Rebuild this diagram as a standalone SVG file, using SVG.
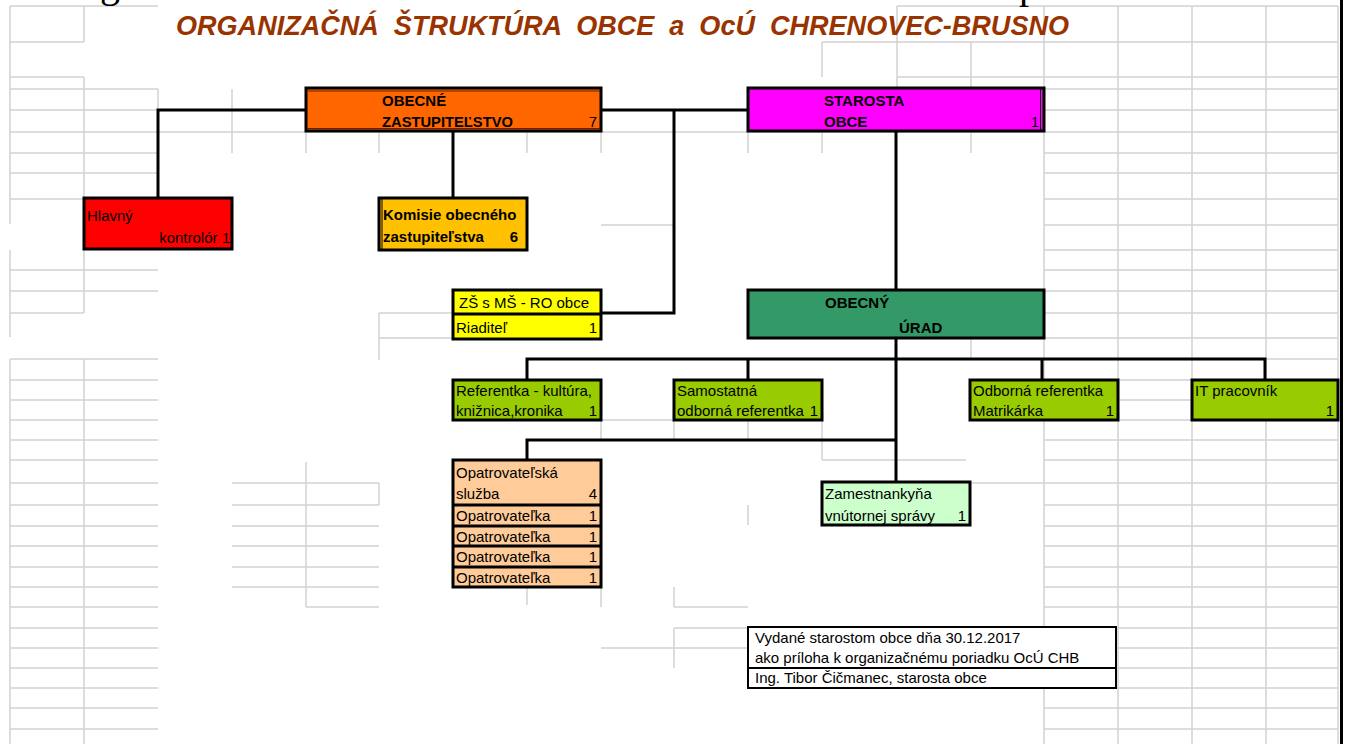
<svg xmlns="http://www.w3.org/2000/svg" width="1346" height="744" viewBox="0 0 1346 744">
<style>
.grid{fill:none;stroke:#d2d2d2;stroke-width:1.5}
.conn{fill:none;stroke:#000;stroke-width:3}
.box{stroke:#000;stroke-width:3}
.div{stroke:#000;stroke-width:3}
.thin{stroke:#000;stroke-width:1}
text{font-family:"Liberation Sans",Arial,sans-serif;font-size:15px;fill:#000}
.b{font-weight:bold}
.r{text-anchor:end}
.title{font-size:28px;font-weight:bold;font-style:italic;fill:#993300}
.cut{font-family:"Liberation Serif","Times New Roman",serif;font-size:40px}
</style>
<rect x="0" y="0" width="1346" height="744" fill="#fff"/>
<g id="grid" class="grid">
<path d="M10 6H158M10 42H84M10 77H84M10 89H158M10 110H158M10 132H1338M10 153H158M10 173H158M10 199H84M10 270H158M10 291H158M10 313H84M10 359H158M10 380H158M10 400H158M10 420H158M10 440H158M10 460H158M10 483H158M10 505H158M10 526H158M10 546H158M10 567H158M10 587H158M10 607H158M10 628H158M10 648H158M10 668H158M10 688H158M10 708H158M10 729H158"/>
<path d="M897 6H1338M822 42H1338M897 77H1338M1044 89H1338M1044 110H1338M1044 153H1338M1044 173H1338M1044 199H1338M1044 225H1338M1044 250H1338M1044 270H1338M1044 291H1338M1044 313H1338M1044 338H1338M1266 359H1338M1118 380H1192M1118 400H1192M1118 420H1192M1044 440H1338M1044 460H1338M966 483H1338M1044 505H1338M1044 526H1338M1044 546H1338M1044 567H1338M1044 587H1338M1044 607H1338M1118 628H1338M1118 648H1338M1118 668H1338M1044 688H1338M1044 708H1338M1044 729H1338"/>
<path d="M601 225H674M379 313H453M379 338H453M601 420H748M822 460H966M232 483H379M232 505H379M232 526H379M232 546H379M232 567H379M232 587H379M306 607H379M674 607H748M674 628H748M601 648H748"/>
<path d="M10 6V224M10 250V337M10 359V744M84 6V42M84 77V198M84 248V313M84 359V744M158 89V110M232 89V153M306 132V153M306 462V607M379 132V153M379 313V360M379 483V505M527 132V153M527 587V605M601 132V153M601 420V440M601 587V607M674 420V440M674 587V607M674 628V668M748 132V153M748 420V440M748 505V525M822 42V77M822 132V153M822 420V460M897 6V89M971 42V89M971 132V153M971 338V360M1044 6V744M1118 6V744M1192 6V744M1266 6V744M1338 6V744"/>
</g>
<line x1="1341.5" y1="0" x2="1341.5" y2="744" stroke="#000" stroke-width="3"/>
<text class="cut" x="100" y="-3">g</text>
<text class="cut" x="1019" y="-2">p</text>
<text class="title" x="176" y="35" textLength="893" lengthAdjust="spacingAndGlyphs" xml:space="preserve">ORGANIZAČNÁ  ŠTRUKTÚRA  OBCE  a  OcÚ  CHRENOVEC-BRUSNO</text>
<g id="connectors" class="conn">
<path d="M158 198V110H306"/>
<path d="M601 110H748"/>
<path d="M674 110V313H601"/>
<path d="M453 131V198"/>
<path d="M896 131V290"/>
<path d="M896 338V482"/>
<path d="M527 380V359H1265V380"/>
<path d="M748 359V380"/>
<path d="M1042 359V380"/>
<path d="M527 460V440H896"/>
</g>
<g id="zastupitelstvo">
<rect class="box" x="306" y="88" width="295" height="43" fill="#FF6600"/>
<line x1="307" y1="91" x2="600" y2="91" stroke="#662200" stroke-width="1"/>
<line x1="307" y1="128.5" x2="600" y2="128.5" stroke="#662200" stroke-width="1"/>
<text class="b" x="382" y="106">OBECNÉ</text>
<text class="b" x="382" y="127" textLength="131" lengthAdjust="spacingAndGlyphs">ZASTUPITEĽSTVO</text>
<text class="r" x="597" y="127">7</text>
</g>
<g id="starosta">
<rect class="box" x="748" y="88" width="296" height="43" fill="#FF00FF"/>
<line class="thin" x1="1040.5" y1="89" x2="1040.5" y2="130"/>
<text class="b" x="824" y="106">STAROSTA</text>
<text class="b" x="824" y="127">OBCE</text>
<text class="r" x="1039" y="127">1</text>
</g>
<g id="kontrolor">
<rect class="box" x="84" y="198" width="148" height="51" fill="#FF0000"/>
<text x="87" y="221">Hlavný</text>
<text class="r" x="230" y="243">kontrolór 1</text>
</g>
<g id="komisie">
<rect class="box" x="379" y="198" width="148" height="52" fill="#FFC000"/>
<line class="thin" x1="382" y1="199" x2="382" y2="249"/>
<text class="b" x="383" y="220">Komisie obecného</text>
<text class="b" x="383" y="242">zastupiteľstva</text>
<text class="b r" x="518" y="242">6</text>
</g>
<g id="zs">
<rect class="box" x="453" y="290" width="148" height="49" fill="#FFFF00"/>
<line class="div" x1="453" y1="314" x2="601" y2="314"/>
<text x="459" y="308">ZŠ s MŠ - RO obce</text>
<text x="456" y="333">Riaditeľ</text>
<text class="r" x="597" y="333">1</text>
</g>
<g id="urad">
<rect class="box" x="748" y="290" width="296" height="48" fill="#339966"/>
<text class="b" x="825" y="308">OBECNÝ</text>
<text class="b" x="899" y="333">ÚRAD</text>
</g>
<g id="referentka">
<rect class="box" x="453" y="380" width="148" height="40" fill="#99CC00"/>
<text x="456" y="396">Referentka - kultúra,</text>
<text x="456" y="416">knižnica,kronika</text>
<text class="r" x="597" y="416">1</text>
</g>
<g id="samostatna">
<rect class="box" x="674" y="380" width="148" height="40" fill="#99CC00"/>
<text x="677" y="396">Samostatná</text>
<text x="677" y="416">odborná referentka</text>
<text class="r" x="818" y="416">1</text>
</g>
<g id="matrikarka">
<rect class="box" x="970" y="380" width="148" height="40" fill="#99CC00"/>
<text x="973" y="396">Odborná referentka</text>
<text x="973" y="416">Matrikárka</text>
<text class="r" x="1114" y="416">1</text>
</g>
<g id="it">
<rect class="box" x="1192" y="380" width="146" height="40" fill="#99CC00"/>
<text x="1195" y="396">IT pracovník</text>
<text class="r" x="1334" y="416">1</text>
</g>
<g id="opatrovatelska">
<rect class="box" x="453" y="460" width="148" height="127" fill="#FFCC99"/>
<line class="div" x1="453" y1="505" x2="601" y2="505"/>
<line class="div" x1="453" y1="526" x2="601" y2="526"/>
<line class="div" x1="453" y1="546" x2="601" y2="546"/>
<line class="div" x1="453" y1="567" x2="601" y2="567"/>
<text x="456" y="478">Opatrovateľská</text>
<text x="456" y="499">služba</text>
<text class="r" x="597" y="499">4</text>
<text x="456" y="521">Opatrovateľka</text>
<text class="r" x="597" y="521">1</text>
<text x="456" y="542">Opatrovateľka</text>
<text class="r" x="597" y="542">1</text>
<text x="456" y="562">Opatrovateľka</text>
<text class="r" x="597" y="562">1</text>
<text x="456" y="583">Opatrovateľka</text>
<text class="r" x="597" y="583">1</text>
</g>
<g id="zamestnankyna">
<rect class="box" x="822" y="482" width="148" height="43" fill="#CCFFCC"/>
<text x="825" y="499">Zamestnankyňa</text>
<text x="825" y="521">vnútornej správy</text>
<text class="r" x="966" y="521">1</text>
</g>
<g id="footer">
<rect x="748" y="627" width="368" height="61" fill="#fff" stroke="#000" stroke-width="2"/>
<line x1="748" y1="668" x2="1116" y2="668" stroke="#000" stroke-width="2"/>
<text x="755" y="643">Vydané starostom obce dňa 30.12.2017</text>
<text x="755" y="663">ako príloha k organizačnému poriadku OcÚ CHB</text>
<text x="755" y="683">Ing. Tibor Čičmanec, starosta obce</text>
</g>
</svg>
